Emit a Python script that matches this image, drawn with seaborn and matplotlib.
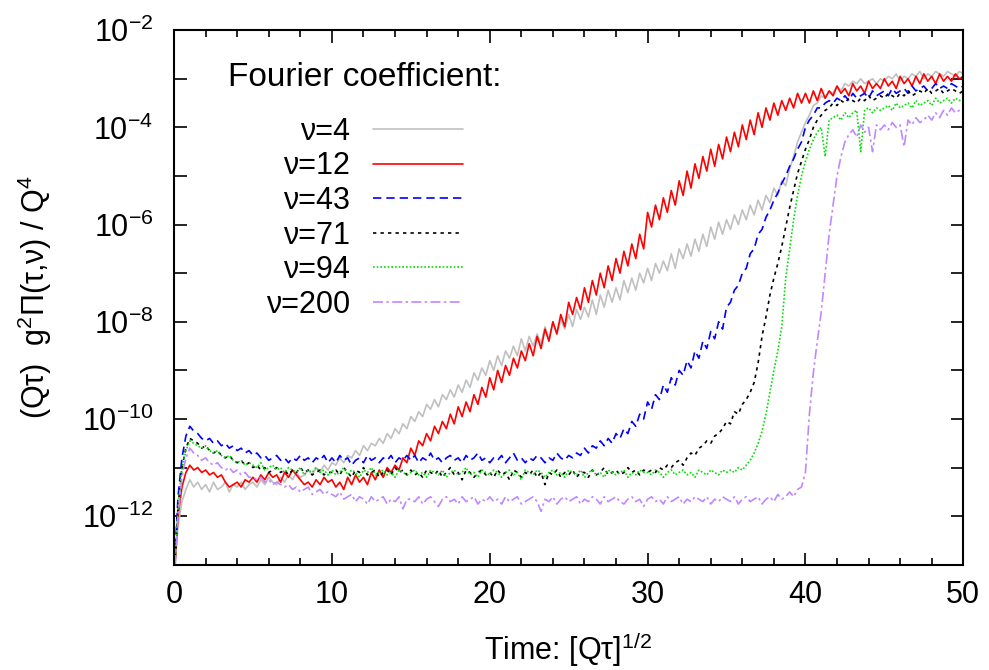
import numpy as np
import pandas as pd
import matplotlib
matplotlib.use("Agg")
import matplotlib.pyplot as plt
import matplotlib.ticker as mticker
import seaborn as sns

# Tiempo: [Q tau]^(1/2), muestreado cada 0.25
tiempo = np.arange(0, 50.25, 0.25)

# log10 de (Q tau) g^2 Pi(tau, nu) / Q^4 (20 valores por fila = 5 unidades)
nu_4 = [
    -13.3, -12.2, -11.7, -11.45, -11.25, -11.4, -11.3, -11.45, -11.35, -11.5, -11.3, -11.45, -11.4, -11.3, -11.5, -11.35, -11.4, -11.3, -11.45, -11.35,
    -11.3, -11.4, -11.25, -11.35, -11.2, -11.3, -11.35, -11.2, -11.3, -11.15, -11.25, -11.1, -11.2, -11.15, -11.05, -11.15, -11.0, -11.1, -10.95, -11.05,
    -10.9, -10.95, -10.8, -10.9, -10.75, -10.8, -10.65, -10.75, -10.55, -10.65, -10.5, -10.55, -10.4, -10.5, -10.3, -10.4, -10.2, -10.3, -10.1, -10.2,
    -9.95, -10.05, -9.85, -9.95, -9.7, -9.8, -9.6, -9.75, -9.5, -9.6, -9.4, -9.55, -9.3, -9.45, -9.2, -9.35, -9.05, -9.2, -8.95, -9.1,
    -8.8, -9.0, -8.7, -8.9, -8.6, -8.75, -8.5, -8.7, -8.35, -8.6, -8.3, -8.5, -8.25, -8.45, -8.1, -8.35, -8.0, -8.25, -7.95, -8.15,
    -7.85, -8.1, -7.75, -7.95, -7.7, -7.9, -7.55, -7.85, -7.45, -7.7, -7.35, -7.6, -7.3, -7.55, -7.15, -7.4, -7.1, -7.35, -7.0, -7.2,
    -6.9, -7.15, -6.8, -7.0, -6.75, -6.95, -6.6, -6.9, -6.5, -6.7, -6.4, -6.65, -6.3, -6.55, -6.2, -6.45, -6.05, -6.3, -5.95, -6.2,
    -5.9, -6.1, -5.8, -6.0, -5.7, -5.9, -5.6, -5.8, -5.5, -5.7, -5.4, -5.55, -5.25, -5.4, -5.1, -5.2, -4.85, -4.6, -4.3, -4.1,
    -3.9, -3.75, -3.55, -3.5, -3.35, -3.4, -3.25, -3.3, -3.15, -3.25, -3.1, -3.15, -3.05, -3.1, -3.0, -3.1, -3.05, -3.0, -3.1, -3.0,
    -3.05, -2.95, -3.0, -2.9, -3.05, -2.95, -3.0, -2.9, -2.95, -2.85, -3.0, -2.9, -2.95, -2.85, -2.9, -2.95, -2.85, -2.9, -2.95, -2.85,
    -2.9,
]
nu_12 = [
    -13.3, -12.0, -11.4, -11.1, -10.95, -11.05, -11.0, -11.1, -11.05, -11.15, -11.1, -11.2, -11.15, -11.3, -11.4, -11.35, -11.3, -11.4, -11.25, -11.3,
    -11.2, -11.3, -11.15, -11.25, -11.1, -11.2, -11.15, -11.3, -11.1, -11.2, -11.05, -11.15, -11.25, -11.35, -11.3, -11.4, -11.25, -11.35, -11.2, -11.3,
    -11.25, -11.4, -11.3, -11.45, -11.2, -11.35, -11.15, -11.3, -11.2, -11.35, -11.1, -11.25, -11.05, -11.2, -11.0, -11.1, -10.95, -11.05, -10.8, -10.9,
    -10.6, -10.75, -10.45, -10.55, -10.3, -10.45, -10.15, -10.3, -10.05, -10.2, -9.9, -10.1, -9.75, -9.95, -9.65, -9.85, -9.5, -9.7, -9.35, -9.55,
    -9.15, -9.4, -9.0, -9.25, -8.9, -9.1, -8.75, -8.95, -8.6, -8.8, -8.45, -8.7, -8.3, -8.55, -8.15, -8.4, -8.0, -8.25, -7.85, -8.1,
    -7.6, -7.85, -7.5, -7.75, -7.3, -7.6, -7.15, -7.45, -7.0, -7.3, -6.85, -7.15, -6.7, -7.0, -6.55, -6.85, -6.4, -6.7, -6.2, -6.5,
    -5.75, -6.05, -5.6, -5.9, -5.45, -5.75, -5.3, -5.6, -5.1, -5.4, -4.9, -5.25, -4.75, -5.05, -4.6, -4.9, -4.45, -4.8, -4.35, -4.65,
    -4.2, -4.5, -4.1, -4.4, -3.95, -4.25, -3.85, -4.15, -3.7, -4.0, -3.6, -3.85, -3.5, -3.75, -3.45, -3.65, -3.4, -3.6, -3.3, -3.5,
    -3.3, -3.5, -3.25, -3.45, -3.2, -3.4, -3.25, -3.35, -3.15, -3.3, -3.2, -3.35, -3.1, -3.25, -3.15, -3.3, -3.05, -3.2, -3.1, -3.2,
    -3.0, -3.15, -3.05, -3.2, -2.95, -3.1, -3.0, -3.15, -2.95, -3.1, -2.9, -3.05, -2.95, -3.1, -2.9, -3.05, -2.95, -3.05, -2.9, -3.0,
    -2.95,
]
nu_43 = [
    -13.2, -11.6, -10.8, -10.35, -10.15, -10.25, -10.3, -10.4, -10.45, -10.4, -10.5, -10.45, -10.55, -10.5, -10.6, -10.55, -10.65, -10.6, -10.7, -10.65,
    -10.75, -10.7, -10.8, -10.75, -10.85, -10.8, -10.75, -10.85, -10.8, -10.9, -10.8, -10.85, -10.75, -10.85, -10.8, -10.9, -10.8, -10.85, -10.75, -10.9,
    -10.8, -10.9, -10.75, -10.85, -10.8, -10.95, -10.85, -10.8, -10.9, -10.75, -10.85, -10.8, -10.9, -10.8, -10.85, -10.75, -10.9, -10.8, -10.85, -10.75,
    -10.85, -10.75, -10.9, -10.8, -10.85, -10.7, -10.85, -10.8, -10.9, -10.8, -10.75, -10.85, -10.8, -10.9, -10.75, -10.85, -10.8, -10.7, -10.85, -10.8,
    -10.9, -10.8, -10.85, -10.75, -10.9, -10.8, -10.7, -10.85, -10.8, -10.9, -10.8, -10.85, -10.75, -10.8, -10.9, -10.8, -10.85, -10.7, -10.8, -10.85,
    -10.75, -10.8, -10.7, -10.75, -10.6, -10.7, -10.55, -10.6, -10.45, -10.55, -10.4, -10.5, -10.3, -10.4, -10.2, -10.3, -10.05, -10.15, -9.9, -10.0,
    -9.65, -9.8, -9.5, -9.6, -9.3, -9.45, -9.15, -9.3, -9.0, -9.1, -8.8, -8.95, -8.6, -8.75, -8.4, -8.55, -8.2, -8.35, -8.0, -8.15,
    -7.7, -7.6, -7.35, -7.25, -7.0, -6.9, -6.6, -6.5, -6.2, -6.1, -5.85, -5.7, -5.5, -5.35, -5.15, -5.0, -4.8, -4.65, -4.45, -4.3,
    -4.0, -3.85, -3.75, -3.6, -3.6, -3.5, -3.45, -3.5, -3.4, -3.45, -3.35, -3.45, -3.3, -3.4, -3.35, -3.3, -3.4, -3.25, -3.35, -3.3,
    -3.25, -3.35, -3.2, -3.3, -3.25, -3.2, -3.3, -3.15, -3.25, -3.2, -3.15, -3.25, -3.2, -3.1, -3.2, -3.15, -3.2, -3.1, -3.15, -3.2,
    -3.15,
]
nu_71 = [
    -13.3, -11.8, -11.0, -10.6, -10.4, -10.45, -10.5, -10.6, -10.55, -10.65, -10.7, -10.65, -10.75, -10.8, -10.75, -10.85, -10.9, -10.85, -10.95, -10.9,
    -11.0, -10.95, -11.05, -11.0, -11.1, -11.05, -11.0, -11.1, -11.05, -11.15, -11.05, -11.1, -11.0, -11.1, -11.05, -11.15, -11.1, -11.05, -11.15, -11.1,
    -11.1, -11.05, -11.15, -11.0, -11.1, -11.2, -11.05, -11.1, -11.0, -11.15, -11.1, -11.05, -11.2, -11.1, -11.05, -11.15, -11.0, -11.1, -11.05, -11.15,
    -11.05, -11.15, -11.1, -11.2, -11.05, -11.1, -11.15, -11.05, -11.2, -11.1, -11.0, -11.15, -11.1, -11.25, -11.05, -11.1, -11.2, -11.1, -11.05, -11.15,
    -11.1, -11.2, -11.05, -11.15, -11.1, -11.25, -11.05, -11.1, -11.2, -11.1, -11.15, -11.05, -11.2, -11.1, -11.35, -11.1, -11.15, -11.05, -11.2, -11.1,
    -11.15, -11.05, -11.2, -11.1, -11.1, -11.2, -11.05, -11.15, -11.1, -11.0, -11.15, -11.1, -11.05, -11.15, -11.1, -11.0, -11.1, -11.05, -11.15, -11.05,
    -11.1, -11.05, -11.1, -11.0, -11.05, -10.95, -11.0, -10.9, -10.85, -10.95, -10.8, -10.7, -10.75, -10.6, -10.55, -10.45, -10.5, -10.35, -10.3, -10.2,
    -10.05, -10.1, -9.85, -9.9, -9.7, -9.6, -9.45, -9.25, -8.85, -8.3, -7.9, -7.45, -7.1, -6.8, -6.45, -6.05, -5.65, -5.3, -4.95, -4.7,
    -4.45, -4.25, -4.0, -3.85, -3.75, -3.65, -3.6, -3.5, -3.55, -3.45, -3.5, -3.4, -3.45, -3.5, -3.4, -3.45, -3.35, -3.45, -3.4, -3.35,
    -3.4, -3.3, -3.35, -3.4, -3.3, -3.35, -3.25, -3.35, -3.3, -3.25, -3.3, -3.2, -3.3, -3.25, -3.2, -3.3, -3.25, -3.2, -3.25, -3.3,
    -3.25,
]
nu_94 = [
    -13.3, -11.8, -11.0, -10.65, -10.45, -10.5, -10.55, -10.6, -10.55, -10.65, -10.7, -10.65, -10.75, -10.8, -10.75, -10.85, -10.9, -10.85, -10.95, -10.9,
    -10.95, -11.0, -10.9, -11.05, -11.0, -10.95, -11.05, -11.0, -11.1, -11.0, -11.05, -11.1, -11.0, -11.15, -11.05, -11.1, -11.0, -11.1, -11.05, -11.15,
    -11.05, -11.15, -11.1, -11.0, -11.15, -11.05, -11.1, -11.2, -11.05, -11.1, -11.0, -11.15, -11.1, -11.05, -11.15, -11.1, -11.2, -11.05, -11.1, -11.15,
    -11.1, -11.05, -11.15, -11.1, -11.2, -11.05, -11.1, -11.15, -11.05, -11.2, -11.1, -11.05, -11.15, -11.1, -11.0, -11.15, -11.1, -11.2, -11.05, -11.1,
    -11.15, -11.05, -11.1, -11.2, -11.1, -11.05, -11.15, -11.1, -11.25, -11.05, -11.1, -11.15, -11.05, -11.1, -11.2, -11.1, -11.05, -11.15, -11.1, -11.2,
    -11.05, -11.1, -11.15, -11.05, -11.2, -11.1, -11.05, -11.15, -11.1, -11.2, -11.05, -11.1, -11.15, -11.1, -11.05, -11.2, -11.1, -11.15, -11.05, -11.1,
    -11.1, -11.15, -11.05, -11.1, -11.2, -11.1, -11.05, -11.15, -11.1, -11.05, -11.15, -11.1, -11.2, -11.05, -11.1, -11.15, -11.05, -11.1, -11.15, -11.05,
    -11.1, -11.05, -11.1, -11.0, -11.05, -10.95, -10.85, -10.7, -10.5, -10.25, -9.9, -9.45, -9.0, -8.6, -8.1, -7.1, -6.5, -5.9, -5.4, -5.0,
    -4.7, -4.45, -4.25, -4.1, -4.0, -4.6, -3.85, -3.8, -3.75, -3.85, -3.7, -3.8, -3.7, -3.65, -4.5, -3.65, -3.6, -3.7, -3.6, -3.65,
    -3.6, -3.55, -3.65, -3.5, -3.6, -3.55, -3.5, -3.6, -3.45, -3.55, -3.5, -3.45, -3.55, -3.4, -3.5, -3.45, -3.4, -3.5, -3.4, -3.45,
    -3.4,
]
nu_200 = [
    -13.4, -12.0, -11.2, -10.8, -10.6, -10.7, -10.75, -10.85, -10.8, -10.9, -10.95, -10.9, -11.0, -11.05, -11.0, -11.1, -11.05, -11.15, -11.1, -11.2,
    -11.2, -11.25, -11.2, -11.3, -11.25, -11.35, -11.3, -11.35, -11.4, -11.35, -11.45, -11.4, -11.5, -11.45, -11.4, -11.55, -11.5, -11.45, -11.55, -11.5,
    -11.55, -11.6, -11.5, -11.65, -11.6, -11.55, -11.7, -11.6, -11.65, -11.75, -11.6, -11.7, -11.65, -11.6, -11.75, -11.65, -11.7, -11.6, -11.85, -11.65,
    -11.65, -11.7, -11.6, -11.75, -11.65, -11.6, -11.7, -11.8, -11.65, -11.6, -11.7, -11.65, -11.75, -11.6, -11.7, -11.65, -11.6, -11.75, -11.65, -11.7,
    -11.6, -11.7, -11.65, -11.75, -11.6, -11.7, -11.65, -11.6, -11.75, -11.7, -11.65, -11.6, -11.7, -11.9, -11.65, -11.7, -11.6, -11.75, -11.65, -11.6,
    -11.7, -11.65, -11.6, -11.75, -11.65, -11.7, -11.6, -11.65, -11.75, -11.6, -11.7, -11.65, -11.6, -11.7, -11.75, -11.65, -11.6, -11.7, -11.65, -11.8,
    -11.65, -11.6, -11.7, -11.65, -11.75, -11.6, -11.7, -11.65, -11.6, -11.75, -11.65, -11.7, -11.6, -11.65, -11.7, -11.6, -11.75, -11.65, -11.7, -11.6,
    -11.65, -11.7, -11.6, -11.75, -11.65, -11.6, -11.7, -11.65, -11.6, -11.75, -11.65, -11.6, -11.7, -11.55, -11.65, -11.6, -11.5, -11.6, -11.45, -11.4,
    -11.1, -9.9, -9.05, -8.4, -7.8, -7.0, -6.2, -5.6, -5.0, -4.6, -4.3, -4.15, -4.05, -4.2, -3.95, -4.1, -4.0, -4.5, -3.95, -4.05,
    -3.95, -4.05, -3.9, -4.0, -3.95, -4.4, -3.85, -3.95, -3.8, -3.9, -3.85, -3.75, -3.85, -3.7, -3.8, -3.65, -3.75, -3.6, -3.7, -3.65,
    -3.6,
]

etiquetas = ["ν=4", "ν=12", "ν=43", "ν=71", "ν=94", "ν=200"]
colores = ["#c0c0c0", "#ff0000", "#0000ff", "#000000", "#00e000", "#bf88ff"]
estilos = ["-", "-", (0, (5, 3)), (0, (2, 2.5)), (0, (1, 1.2)), (0, (6, 2, 1.5, 2))]

series = [nu_4, nu_12, nu_43, nu_71, nu_94, nu_200]
for s in series:
    assert len(s) == len(tiempo)

sns.set_theme(style="ticks")
plt.rcParams["font.family"] = ["Liberation Sans", "DejaVu Sans"]
plt.rcParams["mathtext.fontset"] = "custom"
plt.rcParams["mathtext.rm"] = "Liberation Sans"
plt.rcParams["mathtext.it"] = "Liberation Sans:italic"
plt.rcParams["text.color"] = "black"
plt.rcParams["axes.labelcolor"] = "black"
plt.rcParams["legend.labelcolor"] = "black"

fig, ax = plt.subplots(figsize=(9.89, 6.70), dpi=100)
fig.subplots_adjust(left=0.176, right=0.974, top=0.955, bottom=0.157)

for valores, etiqueta, color, estilo in zip(series, etiquetas, colores, estilos):
    df = pd.DataFrame({"tiempo": tiempo, "valor": 10.0 ** np.array(valores)})
    sns.lineplot(data=df, x="tiempo", y="valor", color=color, linestyle=estilo,
                 lw=1.2, label=etiqueta, estimator=None, sort=False, ax=ax)

ax.set_yscale("log")
ax.set_xlim(0, 50)
ax.set_ylim(1e-13, 1e-2)

ax.xaxis.set_major_locator(mticker.MultipleLocator(10))
ax.xaxis.set_minor_locator(mticker.MultipleLocator(2))
ax.yaxis.set_major_locator(mticker.FixedLocator([10.0 ** e for e in range(-13, -1)]))
ax.yaxis.set_minor_locator(mticker.NullLocator())
ax.yaxis.set_major_formatter(mticker.FuncFormatter(
    lambda v, pos: r"$10^{%d}$" % round(np.log10(v)) if round(np.log10(v)) % 2 == 0 else ""))

ax.tick_params(axis="both", which="both", direction="in", top=True, right=True,
               labelsize=22, width=1.2, colors="black")
ax.tick_params(axis="both", which="major", length=9)
ax.tick_params(axis="both", which="minor", length=5)
ax.tick_params(axis="x", which="major", pad=11)
ax.tick_params(axis="y", which="major", pad=15)
for s in ax.spines.values():
    s.set_linewidth(1.5)
    s.set_color("black")

ax.set_xlabel("Time: [Qτ]$^{1/2}$", fontsize=22, labelpad=14, color="black")
ax.set_ylabel("(Qτ)  g$^{2}$Π(τ,ν) / Q$^{4}$", fontsize=22, labelpad=20, color="black")

leg = ax.legend(title="Fourier coefficient:", loc="upper left",
                bbox_to_anchor=(0.068, 0.94), frameon=False, markerfirst=False,
                fontsize=22, title_fontsize=24, handlelength=2.95,
                handletextpad=0.75, labelspacing=0.15, borderpad=0,
                borderaxespad=0, alignment="center")
leg.get_title().set_color("black")
leg._legend_box.sep = 17

fig.savefig("out.png", dpi=100)
